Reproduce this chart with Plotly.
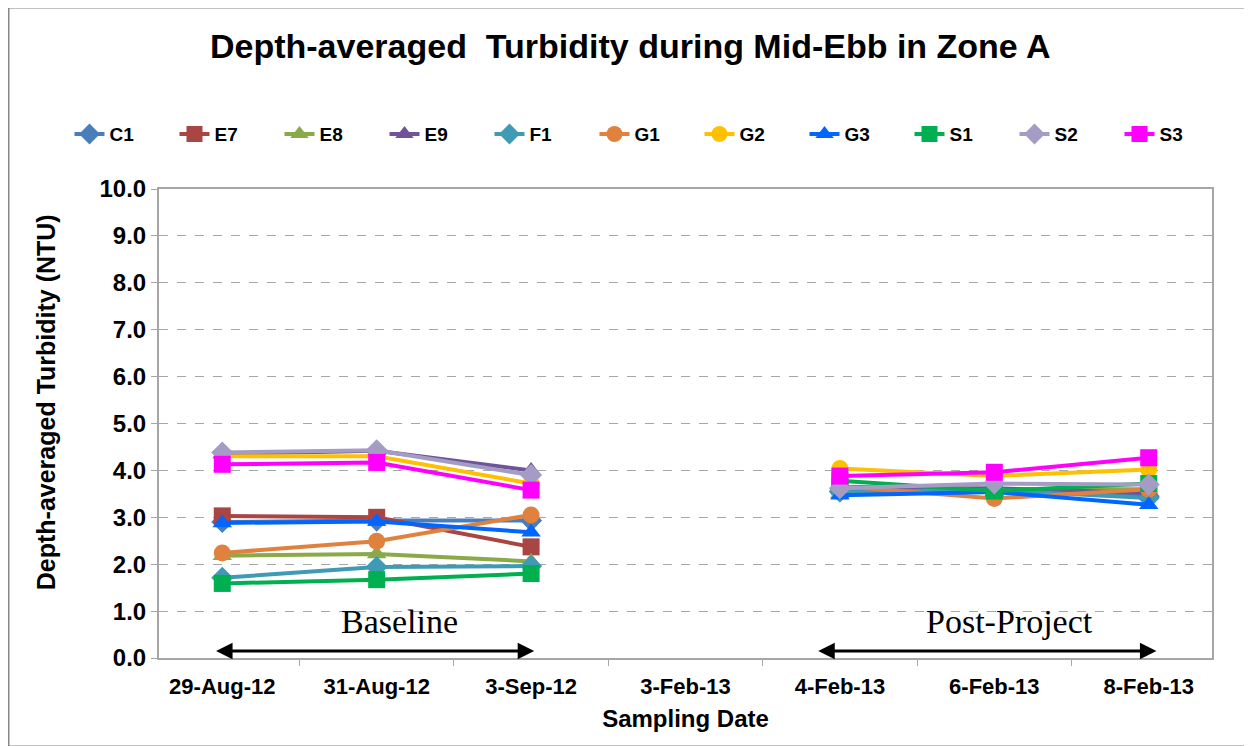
import plotly.graph_objects as go

# Sampling dates (category axis). 3-Feb-13 has no readings.
dates = ["29-Aug-12", "31-Aug-12", "3-Sep-12", "3-Feb-13", "4-Feb-13", "6-Feb-13", "8-Feb-13"]

# Depth-averaged turbidity (NTU) per station.
c1 = [2.90, 2.93, 2.93, None, 3.55, 3.60, 3.45]
e7 = [3.03, 3.00, 2.37, None, 3.65, 3.60, 3.55]
e8 = [2.18, 2.22, 2.06, None, 3.50, 3.60, 3.60]
e9 = [4.35, 4.42, 4.00, None, 3.60, 3.62, 3.52]
f1 = [1.71, 1.94, 1.96, None, 3.55, 3.58, 3.41]
g1 = [2.24, 2.49, 3.05, None, 3.66, 3.40, 3.60]
g2 = [4.30, 4.30, 3.72, None, 4.04, 3.88, 4.02]
g3 = [2.88, 2.91, 2.68, None, 3.47, 3.54, 3.27]
s1 = [1.59, 1.67, 1.80, None, 3.78, 3.56, 3.72]
s2 = [4.38, 4.43, 3.90, None, 3.62, 3.72, 3.70]
s3 = [4.13, 4.17, 3.58, None, 3.88, 3.96, 4.27]

stations = ["C1", "E7", "E8", "E9", "F1", "G1", "G2", "G3", "S1", "S2", "S3"]
series = [c1, e7, e8, e9, f1, g1, g2, g3, s1, s2, s3]
colors = ["#4A7EBB", "#A94543", "#8AAA4A", "#6F5499", "#3E9AB5", "#E0823D",
          "#FFC000", "#0066FF", "#00B050", "#A59CC6", "#FF00FF"]
symbols = ["diamond", "square", "triangle-up", "triangle-up", "diamond", "circle",
           "circle", "triangle-up", "square", "diamond", "square"]

AXIS_GREY = "#A6A6A6"
FONT = "Liberation Sans, Arial, sans-serif"

fig = go.Figure()
for name, values, color, symbol in zip(stations, series, colors, symbols):
    fig.add_trace(go.Scatter(
        x=dates, y=values, name=name, mode="lines+markers",
        line=dict(color=color, width=4),
        marker=dict(color=color, symbol=symbol, size=17),
        connectgaps=False,
    ))

# the page body adds ~7px of offset, so margins are trimmed to compensate
fig.update_layout(
    width=1252, height=746,
    margin=dict(l=151, r=48, t=181, b=96),
    paper_bgcolor="white", plot_bgcolor="white",
    font=dict(family=FONT, color="black"),
    title=dict(
        text="<b>Depth-averaged  Turbidity during Mid-Ebb in Zone A</b>",
        x=0.497, xref="container", xanchor="center",
        y=0.949, yref="container", yanchor="middle",
        font=dict(size=34, family=FONT),
    ),
    legend=dict(
        orientation="h", x=-0.085, xanchor="left", y=1.117, yanchor="middle",
        font=dict(size=19, family=FONT, weight="bold"),
        entrywidth=60, itemwidth=30, traceorder="normal",
    ),
    showlegend=True,
)

fig.update_xaxes(
    type="category", categoryorder="array", categoryarray=dates,
    tickson="boundaries", ticks="outside", ticklen=6, tickcolor=AXIS_GREY,
    showline=True, linecolor=AXIS_GREY, linewidth=2, mirror=True,
    showgrid=False, automargin=False, ticklabelstandoff=8,
    tickfont=dict(size=22, family=FONT, weight="bold"),
    title=dict(text="<b>Sampling Date</b>", font=dict(size=24, family=FONT), standoff=12),
)
fig.update_yaxes(
    range=[0, 10], dtick=1, tickformat=".1f",
    ticks="outside", ticklen=6, tickcolor=AXIS_GREY,
    showline=True, linecolor=AXIS_GREY, linewidth=2, mirror=True,
    showgrid=True, gridcolor=AXIS_GREY, griddash="dash", gridwidth=1.3,
    zeroline=False, automargin=False,
    tickfont=dict(size=24, family=FONT, weight="bold"),
)

# Y axis title placed as an annotation (it sits slightly above the plot centre)
fig.add_annotation(
    x=-0.107, y=0.546, xref="paper", yref="paper", xanchor="center", yanchor="middle",
    textangle=-90, text="<b>Depth-averaged Turbidity (NTU)</b>", showarrow=False,
    font=dict(size=25, family=FONT, color="black"),
)

# Period labels and double-headed arrows
periods = [("Baseline", -0.05, 2.02, 1.15), ("Post-Project", 3.85, 6.05, 5.1)]
for label, start, end, mid in periods:
    fig.add_annotation(
        x=end, y=0.15, ax=start, ay=0.15, xref="x", yref="y", axref="x", ayref="y",
        text="", showarrow=True, arrowhead=2, startarrowhead=2, arrowside="end+start",
        arrowsize=1.1, startarrowsize=1.1, arrowwidth=3, arrowcolor="black",
    )
    fig.add_annotation(
        x=mid, y=0.77, xref="x", yref="y", text=label, showarrow=False,
        font=dict(size=34, family="Liberation Serif, serif", color="black"),
    )

# Chart-area border
fig.add_shape(
    type="rect", xref="paper", yref="paper",
    x0=-0.1434, x1=1.04, y0=-0.19, y1=1.388,
    line=dict(color="#878787", width=3), fillcolor="rgba(0,0,0,0)", layer="below",
)

fig.write_html("out.html")
